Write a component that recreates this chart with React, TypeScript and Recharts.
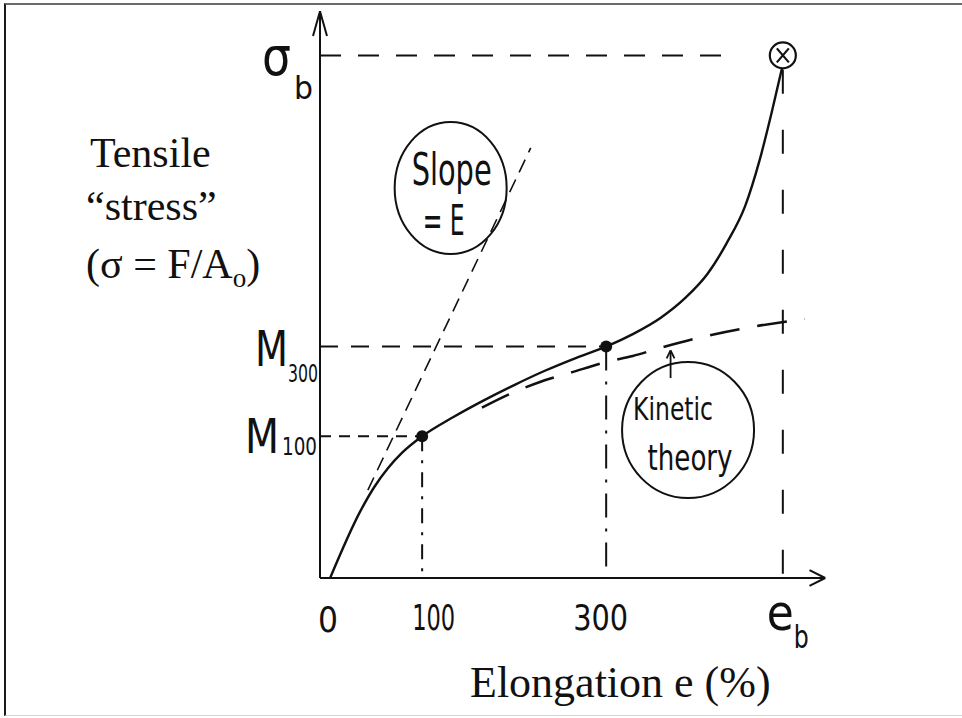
import React from 'react';
import { ComposedChart, Line, XAxis, YAxis, ReferenceLine, ReferenceDot } from 'recharts';

// stress levels (arbitrary units) and elongations (%)
const M100 = 5.45;
const M300 = 8.9;
const SIGMA_B = 20.1;
const E_B = 492;

const xTicks = [0, 100, 300, E_B];
const xTickText = ['0', '100', '300', 'e'];
const xTickSub = ['', '', '', 'b'];

const yTicks = [M100, M300, SIGMA_B];
const yTickText = ['M', 'M', 'σ'];
const yTickSub = ['100', '300', 'b'];

// measured stress-strain curve
const curveX = [0, 33, 48, 63, 78, 100, 133.5, 167, 200.6, 234, 267.6, 300, 329, 359, 386, 410, 431, 451, 467, 480, 491];
const curveY = [0, 2.58, 3.5, 4.23, 4.81, 5.45, 6.18, 6.83, 7.43, 7.98, 8.47, 8.9, 9.38, 10.0, 10.77, 11.69, 12.88, 14.3, 16.1, 17.92, 19.6];

// kinetic theory prediction
const kinX = [165, 200, 228, 260, 300, 329, 359, 402, 464, 516];
const kinY = [6.55, 7.15, 7.54, 7.88, 8.31, 8.54, 8.85, 9.25, 9.69, 9.96];

// initial slope = E
const slopeX = [41, 218];
const slopeY = [3.38, 16.54];

// callout bubbles (centres in data units)
const slopeBubble = { x: 131, y: 15.0, lines: ['Slope', '= E'] };
const kinBubble = { x: 389, y: 5.69, lines: ['Kinetic', 'theory'] };
const kinArrow = { x: 370, from: 7.69, to: 8.75 };

const X_MIN = -11;
const X_MAX = 540;
const Y_MAX = 22;

const toRows = (xs: number[], ys: number[]) => xs.map((x, i) => ({ x, y: ys[i] }));
const mainCurve = toRows(curveX, curveY);
const kinCurve = toRows(kinX, kinY);
const slopeLine = toRows(slopeX, slopeY);

const HAND = "'DejaVu Sans Condensed', 'DejaVu Sans', sans-serif";
const SERIF = "'Liberation Serif', 'Times New Roman', serif";
const INK = '#111';

// hand-lettered text squeezed to the width it has in the sketch
const Hand = ({ x, y, size, w, anchor, children }: any) => (
  <text
    x={x}
    y={y}
    fontSize={size}
    textLength={w}
    lengthAdjust="spacingAndGlyphs"
    textAnchor={anchor || 'start'}
    fill={INK}
    fontFamily={HAND}
    fontWeight={300}
  >
    {children}
  </text>
);

const XTick = (props: any) => {
  const { x, y, payload } = props;
  const i = xTicks.indexOf(payload.value);
  if (i < 0) return null;
  if (xTickSub[i]) {
    return (
      <g>
        <Hand x={x - 16} y={y + 52} size={50} w={27}>{xTickText[i]}</Hand>
        <Hand x={x + 11} y={y + 70} size={32} w={15}>{xTickSub[i]}</Hand>
      </g>
    );
  }
  if (i === 0) return <Hand x={x - 12} y={y + 54} size={36} w={20}>{xTickText[i]}</Hand>;
  if (i === 1) return <Hand x={x - 10} y={y + 52} size={35} w={43}>{xTickText[i]}</Hand>;
  return <Hand x={x - 33} y={y + 52} size={35} w={55}>{xTickText[i]}</Hand>;
};

const YTick = (props: any) => {
  const { x, y, payload } = props;
  const i = yTicks.indexOf(payload.value);
  if (i < 0) return null;
  if (i === 2) {
    return (
      <g>
        <Hand x={x - 58} y={y + 20} size={54} w={29}>{yTickText[i]}</Hand>
        <Hand x={x - 26} y={y + 44} size={32} w={19}>{yTickSub[i]}</Hand>
      </g>
    );
  }
  if (i === 1) {
    return (
      <g>
        <Hand x={x - 65} y={y + 19} size={50} w={33}>{yTickText[i]}</Hand>
        <Hand x={x - 32} y={y + 35} size={24} w={30}>{yTickSub[i]}</Hand>
      </g>
    );
  }
  return (
    <g>
      <Hand x={x - 75} y={y + 17} size={48} w={34}>{yTickText[i]}</Hand>
      <Hand x={x - 38} y={y + 19} size={25} w={35}>{yTickSub[i]}</Hand>
    </g>
  );
};

const Bubble = (rx: number, ry: number, lines: string[], offs: number[][], sizes: number[], widths: number[]) => (props: any) => {
  const { cx, cy } = props;
  return (
    <g>
      <ellipse cx={cx} cy={cy} rx={rx} ry={ry} fill="none" stroke={INK} strokeWidth={2} />
      {lines.map((t, i) => (
        <Hand key={t} x={cx + offs[i][0]} y={cy + offs[i][1]} size={sizes[i]} w={widths[i]} anchor="middle">
          {t}
        </Hand>
      ))}
    </g>
  );
};

const BreakMark = (props: any) => {
  const { cx, cy } = props;
  return (
    <g stroke={INK} strokeWidth={2.2}>
      <circle cx={cx} cy={cy} r={13} fill="#fff" />
      <line x1={cx - 6} y1={cy - 7} x2={cx + 6} y2={cy + 7} />
      <line x1={cx + 6} y1={cy - 7} x2={cx - 6} y2={cy + 7} />
    </g>
  );
};

const seg = (x1: number, y1: number, x2: number, y2: number) => [{ x: x1, y: y1 }, { x: x2, y: y2 }];

export default function App() {
  return (
    <div style={{ position: 'absolute', left: 0, top: 0, width: 962, height: 718, background: '#fff', overflow: 'hidden' }}>
      <div
        style={{
          position: 'absolute', left: 4, top: 3, width: 958, height: 713,
          borderTop: '2px solid #6a6a6a', borderLeft: '2px solid #1a1a1a', borderBottom: '1px solid #d4d4d4',
          boxSizing: 'border-box',
        }}
      />
      <ComposedChart width={962} height={718} margin={{ top: 6, right: 135, bottom: 110, left: 260 }}>
        <XAxis
          dataKey="x"
          type="number"
          domain={[X_MIN, X_MAX]}
          allowDataOverflow
          ticks={xTicks}
          interval={0}
          height={30}
          axisLine={false}
          tickLine={false}
          tickSize={0}
          tickMargin={0}
          tick={<XTick />}
        />
        <YAxis
          type="number"
          domain={[0, Y_MAX]}
          allowDataOverflow
          ticks={yTicks}
          interval={0}
          width={60}
          axisLine={false}
          tickLine={false}
          tickSize={0}
          tickMargin={0}
          tick={<YTick />}
        />

        {/* axes with arrow heads */}
        <ReferenceLine segment={seg(X_MIN, 0, 538, 0)} stroke={INK} strokeWidth={2} ifOverflow="visible" />
        <ReferenceLine segment={seg(538, 0, 521, 0.3)} stroke={INK} strokeWidth={2} ifOverflow="visible" />
        <ReferenceLine segment={seg(538, 0, 521, -0.3)} stroke={INK} strokeWidth={2} ifOverflow="visible" />
        <ReferenceLine segment={seg(X_MIN, 0, X_MIN, 21.8)} stroke={INK} strokeWidth={2} ifOverflow="visible" />
        <ReferenceLine segment={seg(X_MIN, 21.8, X_MIN - 7.6, 20.85)} stroke={INK} strokeWidth={2} ifOverflow="visible" />
        <ReferenceLine segment={seg(X_MIN, 21.8, X_MIN + 7.6, 20.85)} stroke={INK} strokeWidth={2} ifOverflow="visible" />

        {/* guide lines */}
        <ReferenceLine segment={seg(X_MIN, SIGMA_B, 440, SIGMA_B)} stroke={INK} strokeWidth={2} strokeDasharray="21 17" ifOverflow="visible" />
        <ReferenceLine segment={seg(X_MIN, M300, 300, M300)} stroke={INK} strokeWidth={2} strokeDasharray="18 13" ifOverflow="visible" />
        <ReferenceLine segment={seg(X_MIN, M100, 100, M100)} stroke={INK} strokeWidth={2} strokeDasharray="11 8" ifOverflow="visible" />
        <ReferenceLine segment={seg(100, M100, 100, 0)} stroke={INK} strokeWidth={2} strokeDasharray="15 9 3 9" ifOverflow="visible" />
        <ReferenceLine segment={seg(300, M300, 300, 0)} stroke={INK} strokeWidth={2} strokeDasharray="24 11 3 11" ifOverflow="visible" />
        <ReferenceLine segment={seg(E_B, SIGMA_B - 0.55, E_B, 0)} stroke={INK} strokeWidth={2} strokeDasharray="24 36" ifOverflow="visible" />

        <Line data={slopeLine} dataKey="y" type="linear" stroke={INK} strokeWidth={1.6} strokeDasharray="14 8" dot={false} isAnimationActive={false} />
        <Line data={kinCurve} dataKey="y" type="monotone" stroke={INK} strokeWidth={2.6} strokeDasharray="30 18" dot={false} isAnimationActive={false} />
        <Line data={mainCurve} dataKey="y" type="monotone" stroke={INK} strokeWidth={2.4} dot={false} isAnimationActive={false} />

        {/* kinetic theory pointer */}
        <ReferenceLine segment={seg(kinArrow.x, kinArrow.from, kinArrow.x, kinArrow.to)} stroke={INK} strokeWidth={1.8} ifOverflow="visible" />
        <ReferenceLine segment={seg(kinArrow.x, kinArrow.to, kinArrow.x - 4.3, kinArrow.to - 0.3)} stroke={INK} strokeWidth={1.8} ifOverflow="visible" />
        <ReferenceLine segment={seg(kinArrow.x, kinArrow.to, kinArrow.x + 4.3, kinArrow.to - 0.3)} stroke={INK} strokeWidth={1.8} ifOverflow="visible" />

        <ReferenceDot x={100} y={M100} r={6} fill={INK} stroke="none" ifOverflow="visible" />
        <ReferenceDot x={300} y={M300} r={6} fill={INK} stroke="none" ifOverflow="visible" />
        <ReferenceDot x={E_B} y={SIGMA_B} r={13} ifOverflow="visible" shape={BreakMark} />

        <ReferenceDot
          x={slopeBubble.x}
          y={slopeBubble.y}
          r={1}
          ifOverflow="visible"
          shape={Bubble(56, 66, slopeBubble.lines, [[1, -3], [-7, 47]], [44, 42], [80, 42])}
        />
        <ReferenceDot
          x={kinBubble.x}
          y={kinBubble.y}
          r={1}
          ifOverflow="visible"
          shape={Bubble(66, 68, kinBubble.lines, [[-15, -10], [2, 40]], [32, 36], [80, 85])}
        />
      </ComposedChart>

      <svg width={962} height={718} style={{ position: 'absolute', left: 0, top: 0, pointerEvents: 'none' }}>
        <g fontFamily={SERIF} fontSize={42} fill={INK}>
          <text x={90} y={167}>Tensile</text>
          <text x={86} y={220}>“stress”</text>
          <text x={86} y={278}>
            (σ = F/A<tspan fontSize={27} dy={9}>o</tspan><tspan dy={-9}>)</tspan>
          </text>
        </g>
        <text x={470} y={697} fontFamily={SERIF} fontSize={44} fill={INK}>Elongation e (%)</text>
      </svg>
    </div>
  );
}
